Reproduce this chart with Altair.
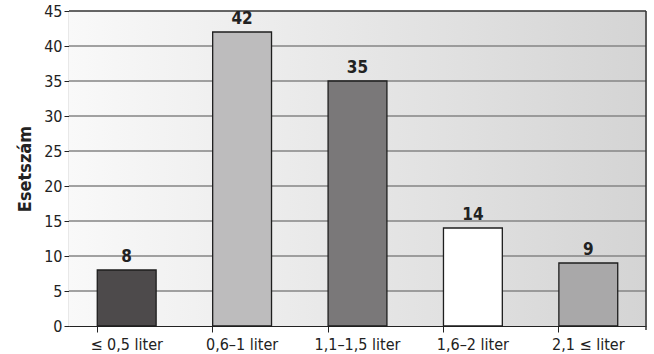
import altair as alt
import pandas as pd

# Case counts per volume class
categories = ["≤ 0,5 liter", "0,6–1 liter", "1,1–1,5 liter", "1,6–2 liter", "2,1 ≤ liter"]
counts = [8, 42, 35, 14, 9]
bar_colors = ["#4d4a4b", "#bdbcbd", "#7a7879", "#ffffff", "#a9a8a9"]
grid_values = [5, 10, 15, 20, 25, 30, 35, 40]
y_ticks = [0, 5, 10, 15, 20, 25, 30, 35, 40, 45]

FONT = "'DejaVu Sans Condensed', 'Liberation Sans', sans-serif"
W, H = 577, 315
INK = "#222222"

df = pd.DataFrame({"cat": categories, "n": counts, "col": bar_colors})
grid_df = pd.DataFrame({"g": grid_values})
bg_df = pd.DataFrame({"k": [0]})

y_scale = alt.Scale(domain=[0, 45], nice=False)
y_axis = alt.Axis(
    title="Esetszám",
    titleFont=FONT,
    titleFontSize=18,
    titleFontWeight="bold",
    titleColor=INK,
    titlePadding=9,
    values=y_ticks,
    tickCount=10,
    labelFont=FONT,
    labelFontSize=16,
    labelColor=INK,
    labelPadding=2,
    labelOverlap=False,
    labelFlush=False,
    tickSize=5,
    tickColor=INK,
    domainColor=INK,
    domainWidth=1.2,
    grid=False,
)
x_enc = alt.X(
    "cat:N",
    sort=categories,
    scale=alt.Scale(paddingInner=0.49, paddingOuter=0.245),
    axis=alt.Axis(
        title=None,
        labelFont=FONT,
        labelFontSize=16,
        labelColor=INK,
        labelPadding=4,
        labelAngle=0,
        bandPosition=0,
        tickSize=6,
        tickColor=INK,
        domainColor=INK,
        domainWidth=1.2,
    ),
)

background = alt.Chart(bg_df).mark_rect(
    fill=alt.LinearGradient(
        gradient="linear",
        x1=0, x2=1, y1=0, y2=0,
        stops=[
            alt.GradientStop(color="#f9f9f9", offset=0),
            alt.GradientStop(color="#d4d4d4", offset=1),
        ],
    ),
).encode(x=alt.value(0), x2=alt.value(W), y=alt.value(0), y2=alt.value(H))

# horizontal guide lines; this layer also carries the y axis
grid = alt.Chart(grid_df).mark_rule(color="#858585", strokeWidth=1.5).encode(
    y=alt.Y("g:Q", scale=y_scale, axis=y_axis)
)

# dark frame along the top and right edges of the plot area
frame_top = alt.Chart(bg_df).mark_rule(color="#333333", strokeWidth=1.5).encode(
    x=alt.value(0), x2=alt.value(W), y=alt.value(0)
)
frame_right = alt.Chart(bg_df).mark_rule(color="#333333", strokeWidth=1.5).encode(
    x=alt.value(W), y=alt.value(0), y2=alt.value(H + 4)
)

bars = alt.Chart(df).mark_bar(stroke="#1e1e1e", strokeWidth=1.3).encode(
    x=x_enc,
    y=alt.Y("n:Q", scale=y_scale),
    fill=alt.Fill("col:N", scale=None),
)

labels = alt.Chart(df).mark_text(
    font=FONT, fontSize=17, fontWeight="bold", color=INK, baseline="bottom", dy=-4
).encode(
    x=alt.X("cat:N", sort=categories),
    y=alt.Y("n:Q", scale=y_scale),
    text=alt.Text("n:Q"),
)

chart = (
    alt.layer(background, grid, frame_top, frame_right, bars, labels)
    .properties(
        width=W,
        height=H,
        autosize=alt.AutoSizeParams(type="none"),
        padding={"left": 69, "top": 11, "right": 8, "bottom": 28},
    )
    .configure_view(stroke=None)
    .configure(background="#ffffff")
)

chart.save("out.html", embed_options={"renderer": "svg", "actions": False})
